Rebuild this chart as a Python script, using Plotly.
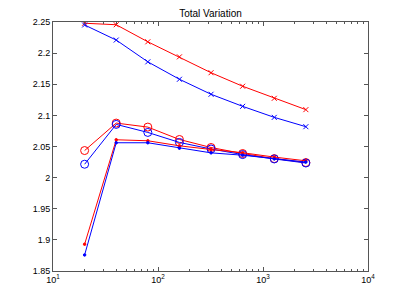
import plotly.graph_objects as go

n_vals = [20, 40, 80, 160, 320, 640, 1280, 2560]

red_x = [2.248, 2.2456, 2.2182, 2.194, 2.1685, 2.1468, 2.1274, 2.1092]
blue_x = [2.2452, 2.221, 2.186, 2.158, 2.1339, 2.1145, 2.0968, 2.0818]
red_o = [2.0435, 2.0876, 2.0812, 2.0613, 2.0484, 2.0387, 2.0306, 2.0242]
blue_o = [2.0215, 2.0855, 2.0726, 2.0565, 2.046, 2.037, 2.030, 2.0235]
red_dot = [1.893, 2.0608, 2.0592, 2.0511, 2.0452, 2.040, 2.033, 2.027]
blue_dot = [1.8758, 2.056, 2.056, 2.0473, 2.0398, 2.036, 2.030, 2.025]

x_tickvals = [10, 100, 1000, 10000]
x_ticktext = ["10<sup>1</sup>", "10<sup>2</sup>", "10<sup>3</sup>", "10<sup>4</sup>"]

RED = "#ff0000"
BLUE = "#0000ff"

fig = go.Figure()

series = [
    (red_x, RED, "x-thin", 5),
    (blue_x, BLUE, "x-thin", 5),
    (red_o, RED, "circle-open", 8),
    (blue_o, BLUE, "circle-open", 8),
    (red_dot, RED, "circle", 2.5),
    (blue_dot, BLUE, "circle", 2.5),
]
for ys, col, sym, sz in series:
    fig.add_trace(go.Scatter(
        x=n_vals, y=ys, mode="lines+markers",
        line=dict(color=col, width=1),
        marker=dict(symbol=sym, size=sz, color=col,
                    line=dict(color=col, width=1)),
        showlegend=False, hoverinfo="skip",
    ))

axis_font = dict(family="Liberation Sans, Arial, sans-serif", size=9, color="#000000")

fig.update_layout(
    width=407, height=305,
    margin=dict(l=53, r=39, t=22, b=34, autoexpand=False),
    paper_bgcolor="white", plot_bgcolor="white",
    hovermode=False,
    title=dict(text="Total Variation", x=0.5, xanchor="center",
               y=1 - 13 / 305, yanchor="middle",
               xref="paper",
               font=dict(family="Liberation Sans, Arial, sans-serif", size=10, color="#000000")),
    xaxis=dict(
        type="log", range=[1, 4], automargin=False,
        tickmode="array", tickvals=x_tickvals, ticktext=x_ticktext,
        ticks="inside", ticklen=4, tickcolor="#555555",
        showline=True, linecolor="#555555", linewidth=1, mirror="ticks",
        showgrid=False, zeroline=False, tickfont=axis_font,
        minor=dict(ticks="inside", ticklen=2, tickcolor="#555555",
                   showgrid=False, tickvals=[m * 10 ** e for e in (1, 2, 3) for m in range(2, 10)]),
    ),
    yaxis=dict(
        range=[1.85, 2.25], dtick=0.05, tick0=1.85, automargin=False,
        ticks="inside", ticklen=4, tickcolor="#555555",
        showline=True, linecolor="#555555", linewidth=1, mirror="ticks",
        showgrid=False, zeroline=False, tickfont=axis_font,
    ),
)

fig.write_html("out.html",
               config={"displayModeBar": False, "staticPlot": True},
               post_script="document.body.style.margin='0';document.body.style.overflow='hidden';")
